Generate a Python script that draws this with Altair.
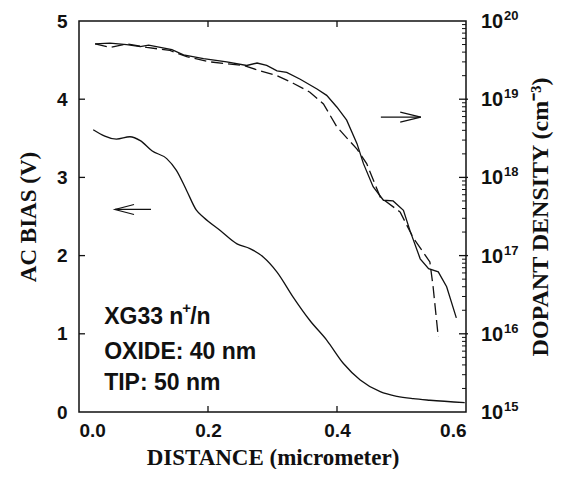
import altair as alt
import pandas as pd

# ---------------- data ----------------
dist_bias = [0.022, 0.058, 0.079, 0.095, 0.113, 0.136, 0.151, 0.167, 0.182, 0.193,
             0.219, 0.245, 0.265, 0.286, 0.307, 0.332, 0.358, 0.384, 0.410, 0.436,
             0.467, 0.493, 0.518, 0.544, 0.598]
ac_bias = [3.61, 3.49, 3.52, 3.47, 3.34, 3.24, 3.09, 2.83, 2.58, 2.49,
           2.32, 2.15, 2.09, 1.98, 1.79, 1.47, 1.17, 0.92, 0.62, 0.41,
           0.26, 0.20, 0.17, 0.15, 0.12]

dist_solid = [0.025, 0.048, 0.074, 0.095, 0.108, 0.126, 0.144, 0.162, 0.193, 0.229,
              0.260, 0.276, 0.291, 0.307, 0.322, 0.343, 0.369, 0.384, 0.400, 0.415,
              0.431, 0.441, 0.456, 0.472, 0.487, 0.503, 0.513, 0.529, 0.542, 0.557,
              0.570, 0.585]
dens_solid = [5.1e19, 5.2e19, 5.0e19, 4.7e19, 4.9e19, 4.6e19, 4.3e19, 3.7e19, 3.3e19, 3.0e19,
              2.7e19, 2.9e19, 2.7e19, 2.3e19, 2.2e19, 1.8e19, 1.35e19, 1.12e19, 7.9e18, 5.4e18,
              2.7e18, 1.5e18, 7.6e17, 5.1e17, 5.0e17, 3.8e17, 2.1e17, 9.1e16, 6.8e16, 6.2e16,
              4.0e16, 1.6e16]

dist_dash = [0.025, 0.048, 0.074, 0.105, 0.141, 0.167, 0.203, 0.255, 0.281, 0.307,
             0.332, 0.358, 0.379, 0.400, 0.431, 0.446, 0.467, 0.498, 0.518, 0.544,
             0.549, 0.557]
dens_dash = [5.1e19, 4.6e19, 5.1e19, 4.6e19, 4.2e19, 3.5e19, 3.0e19, 2.7e19, 2.3e19, 2.0e19,
             1.6e19, 1.23e19, 8.7e18, 4.4e18, 2.3e18, 1.5e18, 5.6e17, 3.6e17, 1.7e17, 8.3e16,
             4.0e16, 9.1e15]

x_ticks = [0.0, 0.2, 0.4, 0.6]
x_inner_ticks = [0.2, 0.4]
bias_ticks = [0, 1, 2, 3, 4, 5]
bias_inner_ticks = [1, 2, 3, 4]
dens_major = [1e15, 1e16, 1e17, 1e18, 1e19, 1e20]
dens_major_exp = ["15", "16", "17", "18", "19", "20"]
dens_inner_major = [1e16, 1e17, 1e18, 1e19]
dens_minor = [m * 10.0 ** e for e in range(15, 20) for m in range(2, 10)]

note_lines = ["XG33 n", "OXIDE: 40 nm", "TIP: 50 nm"]
note_y = [1.21, 0.77, 0.37]
note_x = 0.039

# arrows: (segment id, order, x, bias-scale y)
arrow_seg = ["ls", "ls", "lh", "lh", "lh", "rs", "rs", "rh", "rh", "rh"]
arrow_ord = [0, 1, 0, 1, 2, 0, 1, 0, 1, 2]
arrow_x = [0.0558, 0.1116, 0.0853, 0.0558, 0.0853, 0.468, 0.530, 0.498, 0.530, 0.498]
arrow_y = [2.59, 2.59, 2.654, 2.59, 2.526, 3.77, 3.77, 3.834, 3.77, 3.706]

# ---------------- chart ----------------
W, H = 387, 391
SANS = "Liberation Sans"
SERIF = "Liberation Serif"
INK = "#111111"

xscale = alt.Scale(domain=[0, 0.6], nice=False, zero=False)
lscale = alt.Scale(domain=[0, 5], nice=False, zero=False)
rscale = alt.Scale(type="log", domain=[1e15, 1e20], nice=False)

xaxis = alt.Axis(values=x_ticks, format=".1f", labelFont=SANS, labelFontWeight="bold",
                 labelFontSize=19, labelColor=INK, labelPadding=9, ticks=False, tickSize=0,
                 domain=False, grid=False, title="DISTANCE (micrometer)", titleFont=SERIF,
                 titleFontSize=23, titleFontWeight="bold", titleColor=INK, titlePadding=6)
laxis = alt.Axis(values=bias_ticks, format="d", labelFont=SANS, labelFontWeight="bold",
                 labelFontSize=19, labelColor=INK, labelPadding=12, ticks=False, tickSize=0,
                 domain=False, grid=False, title="AC BIAS (V)", titleFont=SERIF,
                 titleFontSize=23, titleFontWeight="bold", titleColor=INK, titlePadding=16)
raxis = alt.Axis(orient="right", labels=False, ticks=False, tickSize=0, domain=False,
                 grid=False, title="DOPANT DENSITY (cm⁻³)", titleFont=SERIF,
                 titleFontSize=24, titleFontWeight="bold", titleColor=INK,
                 titleAngle=270, titlePadding=86)

X = alt.X("x:Q", scale=xscale, axis=xaxis)
YL = alt.Y("v:Q", scale=lscale, axis=laxis)
YR = alt.Y("d:Q", scale=rscale, axis=raxis)

df_bias = pd.DataFrame({"x": dist_bias, "v": ac_bias})
bias_line = alt.Chart(df_bias).mark_line(color=INK, strokeWidth=1.3, interpolate="monotone").encode(
    x=X, y=YL)

df_arrow = pd.DataFrame({"seg": arrow_seg, "o": arrow_ord, "x": arrow_x, "v": arrow_y})
arrows = alt.Chart(df_arrow).mark_line(color=INK, strokeWidth=1.2).encode(
    x=X, y=YL, detail="seg:N", order="o:Q")

df_note = pd.DataFrame({"x": [note_x] * 3, "v": note_y, "t": note_lines})
notes = alt.Chart(df_note).mark_text(align="left", baseline="middle", font=SANS,
                                     fontWeight="bold", fontSize=23, color=INK).encode(
    x=X, y=YL, text="t:N")
df_sup = pd.DataFrame({"x": [note_x], "v": [note_y[0]], "t": ["+"]})
sup_plus = alt.Chart(df_sup).mark_text(align="left", baseline="middle", font=SANS,
                                       fontWeight="bold", fontSize=15, color=INK,
                                       dx=78, dy=-9).encode(
    x=X, y=YL, text="t:N")
df_slash = pd.DataFrame({"x": [note_x], "v": [note_y[0]], "t": ["/n"]})
slash_n = alt.Chart(df_slash).mark_text(align="left", baseline="middle", font=SANS,
                                        fontWeight="bold", fontSize=23, color=INK,
                                        dx=86).encode(
    x=X, y=YL, text="t:N")

# inner ticks on bottom/top (x) and left (bias)
df_xt = pd.DataFrame({"x": x_inner_ticks})
xt_bottom = alt.Chart(df_xt).mark_rule(color=INK, strokeWidth=1.3).encode(
    x=X, y=alt.value(H), y2=alt.value(H - 6))
xt_top = alt.Chart(df_xt).mark_rule(color=INK, strokeWidth=1.3).encode(
    x=X, y=alt.value(0), y2=alt.value(6))
df_lt = pd.DataFrame({"v": bias_inner_ticks})
lt = alt.Chart(df_lt).mark_rule(color=INK, strokeWidth=1.3).encode(
    y=YL, x=alt.value(0), x2=alt.value(6))

left_layer = alt.layer(bias_line, arrows, notes, sup_plus, slash_n, xt_bottom, xt_top, lt)

# density (right axis)
df_solid = pd.DataFrame({"x": dist_solid, "d": dens_solid})
solid = alt.Chart(df_solid).mark_line(color=INK, strokeWidth=1.3).encode(x=X, y=YR)
df_dash = pd.DataFrame({"x": dist_dash, "d": dens_dash})
dashed = alt.Chart(df_dash).mark_line(color=INK, strokeWidth=1.3, strokeDash=[12, 5]).encode(
    x=X, y=YR)

df_rmaj = pd.DataFrame({"d": dens_inner_major})
rmaj = alt.Chart(df_rmaj).mark_rule(color=INK, strokeWidth=1.3).encode(
    y=YR, x=alt.value(W - 7), x2=alt.value(W + 2))
df_rmin = pd.DataFrame({"d": dens_minor})
rmin = alt.Chart(df_rmin).mark_rule(color=INK, strokeWidth=1.0).encode(
    y=YR, x=alt.value(W - 4), x2=alt.value(W))

df_rlab = pd.DataFrame({"d": dens_major, "b": ["10"] * 6, "e": dens_major_exp})
rlab_base = alt.Chart(df_rlab).mark_text(align="left", baseline="alphabetic", font=SANS,
                                         fontWeight="bold", fontSize=20, color=INK,
                                         dy=7).encode(
    y=YR, x=alt.value(W + 15), text="b:N")
rlab_exp = alt.Chart(df_rlab).mark_text(align="left", baseline="alphabetic", font=SANS,
                                        fontWeight="bold", fontSize=13, color=INK,
                                        dy=-1).encode(
    y=YR, x=alt.value(W + 38), text="e:N")

right_layer = alt.layer(solid, dashed, rmaj, rmin, rlab_base, rlab_exp)

chart = alt.layer(left_layer, right_layer).resolve_scale(y="independent").properties(
    width=W, height=H,
    padding={"left": 71, "top": 13, "right": 88, "bottom": 57},
    autosize=alt.AutoSizeParams(type="none"),
    background="white",
).configure_view(stroke=INK, strokeWidth=1.5)

chart.save("out.html", embed_options={"renderer": "svg", "actions": False})
